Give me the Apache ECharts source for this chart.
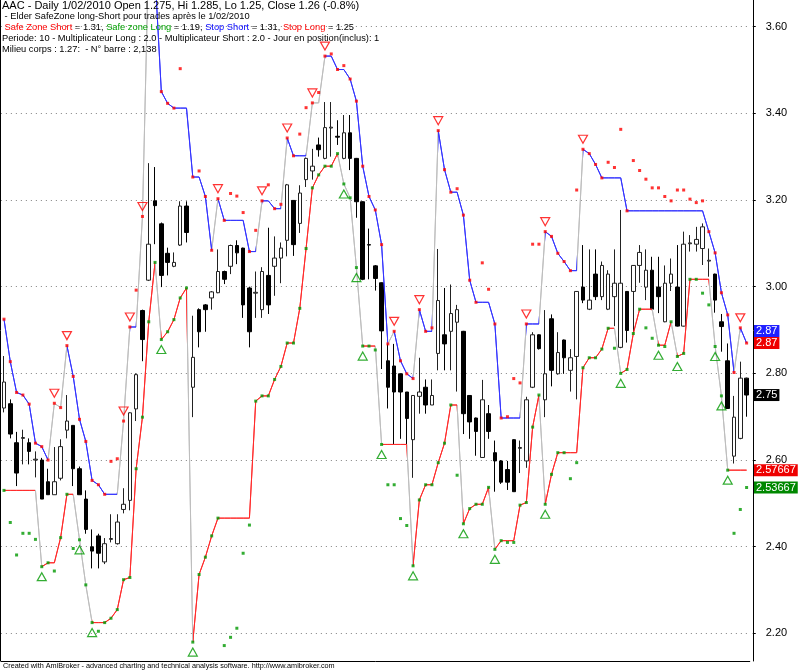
<!DOCTYPE html>
<html><head><meta charset="utf-8">
<script src="https://cdn.jsdelivr.net/npm/echarts@6/dist/echarts.min.js"></script>
<style>html,body{margin:0;padding:0;background:#fff}#c{width:800px;height:671px}</style>
</head><body><div id="c"></div><script>
// ---- data ----
const opens=[2.72,2.73,2.64,2.65,2.64,2.60,2.60,2.55,2.52,2.558,
2.669,2.68,2.58,2.51,2.40,2.425,2.365,2.417,2.407,2.486,
2.507,2.718,2.945,3.015,3.198,3.145,3.077,3.047,3.096,3.186,
2.768,2.947,2.958,2.974,2.986,3.035,3.047,3.095,3.089,2.997,
2.985,2.947,3.026,3.047,3.066,3.107,3.199,3.146,3.247,3.267,
3.327,3.296,3.366,3.347,3.296,3.355,3.296,3.196,3.097,3.048,
3.009,2.829,2.817,2.799,2.757,2.647,2.747,2.768,2.727,2.846,
2.889,2.897,2.918,2.897,2.749,2.697,2.606,2.707,2.617,2.598,
2.578,2.647,2.627,2.598,2.768,2.889,2.739,2.926,2.799,2.877,
2.807,2.839,2.999,2.948,3.029,2.977,2.948,2.977,2.86,2.989,
2.989,3.049,2.999,3.038,2.999,2.919,3.008,2.999,2.909,3.099,
3.098,3.088,3.059,3.029,2.919,2.829,2.609,2.65,2.789];
const highs=[2.84,2.74,2.665,2.67,2.65,2.62,2.605,2.58,2.63,2.648,
2.75,2.68,2.585,2.53,2.44,2.43,2.42,2.475,2.475,2.535,
2.71,2.80,2.947,3.285,3.276,3.148,3.09,3.079,3.197,3.197,
2.933,2.95,2.96,2.99,3.086,3.037,3.097,3.107,3.09,3.0,
3.035,3.045,3.136,3.116,3.102,3.237,3.2,3.234,3.298,3.318,
3.344,3.426,3.426,3.384,3.396,3.396,3.297,3.197,3.134,3.05,
3.01,2.87,2.868,2.80,2.757,2.75,2.836,2.786,2.786,3.087,
2.997,3.005,2.958,2.898,2.75,2.698,2.785,2.727,2.645,2.60,
2.598,2.648,2.645,2.746,2.895,2.89,2.946,2.936,2.895,2.878,
2.856,2.99,3.096,3.086,3.086,3.058,3.038,3.086,3.177,2.99,
3.05,3.096,3.086,3.069,3.069,3.049,3.065,3.096,3.127,3.119,
3.138,3.146,3.088,3.03,2.937,2.869,2.748,2.827,2.79];
const lows=[2.71,2.65,2.54,2.59,2.59,2.56,2.51,2.52,2.52,2.553,
2.65,2.54,2.52,2.43,2.35,2.35,2.36,2.41,2.405,2.477,
2.484,2.69,2.828,3.013,3.098,2.999,3.026,3.045,3.094,3.102,
2.699,2.86,2.896,2.947,2.985,3.006,3.029,3.052,2.928,2.86,
2.928,2.928,2.937,2.979,3.008,3.07,3.071,3.124,3.23,3.247,
3.30,3.294,3.30,3.327,3.294,3.269,3.159,3.015,3.017,2.991,
2.81,2.719,2.637,2.649,2.637,2.559,2.707,2.707,2.727,2.807,
2.807,2.807,2.758,2.66,2.649,2.61,2.605,2.649,2.527,2.545,
2.531,2.527,2.57,2.582,2.766,2.855,2.699,2.77,2.797,2.799,
2.758,2.74,2.962,2.946,2.969,2.969,2.946,2.909,2.858,2.871,
2.892,3.009,2.969,2.946,2.939,2.918,2.99,2.908,2.908,3.081,
3.081,3.05,3.023,2.94,2.85,2.718,2.592,2.648,2.70];
const closes=[2.78,2.66,2.57,2.652,2.62,2.602,2.51,2.52,2.55,2.631,
2.69,2.58,2.52,2.44,2.39,2.385,2.407,2.419,2.457,2.498,
2.709,2.797,2.878,3.098,3.187,3.026,3.056,3.056,3.186,3.125,
2.837,2.896,2.947,2.988,3.035,3.017,3.095,3.078,2.958,2.896,
2.987,3.035,2.958,3.066,3.089,3.235,3.097,3.216,3.296,3.278,
3.316,3.367,3.368,3.345,3.355,3.296,3.196,3.017,3.096,3.019,
2.898,2.768,2.757,2.757,2.696,2.749,2.757,2.727,2.749,2.968,
2.868,2.938,2.947,2.707,2.688,2.666,2.739,2.666,2.598,2.549,
2.549,2.527,2.629,2.739,2.889,2.857,2.799,2.807,2.848,2.836,
2.836,2.989,2.969,2.969,2.977,3.049,3.029,3.008,3.008,2.899,
3.049,3.079,3.038,2.948,2.977,3.008,3.029,2.909,3.098,3.101,
3.109,3.138,3.061,2.969,2.908,2.719,2.699,2.789,2.75];
// Stop Short (trailing stop above price)
const stopShort=[2.925,2.827,2.756,2.750,2.729,2.639,2.631,2.600,2.731,2.721,
2.864,2.793,2.694,2.643,2.553,2.543,2.521,2.521,2.521,2.690,
2.907,2.907,3.162,3.78,3.72,3.450,3.423,3.412,3.412,3.412,
3.253,3.253,3.208,3.084,3.203,3.153,3.153,3.153,3.153,3.081,
3.081,3.198,3.198,3.180,3.180,3.343,3.302,3.302,3.302,3.424,
3.424,3.532,3.532,3.501,3.501,3.479,3.428,3.278,3.208,3.177,
3.097,2.868,2.897,2.829,2.799,2.788,2.947,2.897,2.897,3.360,
3.270,3.218,3.218,3.165,3.015,2.964,2.964,2.964,2.914,2.697,
2.697,2.697,2.697,2.914,2.914,2.914,3.127,3.116,3.077,3.058,
3.037,3.037,3.317,3.307,3.282,3.251,3.251,3.251,3.251,3.175,
3.175,3.175,3.175,3.175,3.175,3.175,3.175,3.175,3.175,3.175,
3.175,3.175,3.127,3.078,2.986,2.935,2.802,2.905,2.87];
// Stop Long (trailing stop below price)
const stopLong=[2.530,2.530,2.530,2.530,2.530,2.530,2.354,2.363,2.363,2.421,
2.521,2.521,2.416,2.312,2.225,2.225,2.225,2.235,2.255,2.324,
2.329,2.580,2.699,2.919,3.056,2.878,2.896,2.924,2.974,2.997,
2.180,2.336,2.376,2.425,2.466,2.466,2.466,2.466,2.466,2.466,
2.736,2.748,2.748,2.786,2.816,2.870,2.870,2.950,3.088,3.228,
3.258,3.278,3.278,3.307,3.237,3.205,3.044,2.863,2.863,2.863,
2.636,2.636,2.636,2.636,2.636,2.356,2.508,2.543,2.543,2.594,
2.639,2.727,2.727,2.453,2.488,2.498,2.498,2.537,2.394,2.414,
2.414,2.414,2.496,2.502,2.676,2.750,2.498,2.567,2.617,2.617,
2.617,2.617,2.813,2.836,2.836,2.856,2.904,2.904,2.800,2.809,
2.892,2.948,2.948,2.948,2.865,2.865,2.919,2.839,2.846,3.017,
3.017,3.017,3.017,2.862,2.748,2.57667,2.57667,2.57667,2.57667];
// Safe Zone Short (red dots)
const safeShort=[2.925,2.827,2.756,2.750,2.729,2.639,2.631,2.600,2.731,2.721,
2.864,2.793,2.694,2.643,2.553,2.543,2.521,2.597,2.603,2.690,
2.907,2.992,3.162,null,null,3.450,3.423,3.412,3.503,null,
3.253,3.267,3.208,3.084,3.203,3.153,3.215,3.209,3.171,3.081,
3.130,3.198,3.235,3.180,3.190,3.343,3.302,3.352,3.413,3.424,
3.448,3.532,3.537,3.501,3.510,3.479,3.428,3.278,3.208,3.177,
3.097,2.868,2.897,2.829,2.799,2.788,2.947,2.897,2.905,3.360,
3.270,3.218,3.226,3.165,3.015,2.964,3.055,2.994,2.914,2.697,
2.700,2.788,2.778,2.914,3.098,3.098,3.127,3.116,3.077,3.058,
3.037,3.223,3.317,3.307,3.282,3.251,3.287,3.275,3.363,3.175,
3.291,3.268,3.248,3.228,3.228,3.208,3.198,3.223,3.223,3.202,
3.194,3.198,3.127,3.078,2.986,2.935,2.802,2.905,2.87];
// Safe Zone Long (green dots)
const safeLong=[2.530,2.456,2.381,2.431,2.431,2.417,2.354,2.363,2.344,2.421,
2.521,2.396,2.416,2.312,2.225,2.205,2.225,2.235,2.255,2.324,
2.329,2.580,2.699,2.919,3.056,2.878,2.896,2.924,2.974,2.997,
2.180,2.336,2.376,2.425,2.466,2.172,2.191,2.212,2.385,2.450,
2.736,2.748,2.748,2.786,2.816,2.870,2.870,2.950,3.088,3.228,
3.258,3.278,3.278,3.307,3.237,3.205,3.044,2.863,2.863,2.854,
2.636,2.543,2.543,2.465,2.449,2.356,2.508,2.543,2.543,2.594,
2.639,2.727,2.565,2.453,2.488,2.498,2.498,2.537,2.394,2.414,
2.410,2.410,2.496,2.502,2.676,2.750,2.498,2.567,2.617,2.617,
2.557,2.594,2.813,2.836,2.836,2.856,2.904,2.858,2.800,2.809,
2.892,2.948,2.905,2.881,2.865,2.862,2.919,2.839,2.846,3.017,
3.017,2.985,2.958,2.862,2.748,2.57667,2.431,2.486,2.53667];
// bars with a new short (▽) / long (△) signal
const shortSignals=[8,10,19,20,22,34,41,45,49,51,62,66,69,83,86,92,117];
const longSignals=[6,12,14,25,30,54,56,57,60,65,73,78,86,98,104,107,113,114,115];
// bar ranges where no position is held (stop drawn grey)
const shortOff=[[7,10],[18,20],[21,24],[33,34],[40,41],[44,45],[48,51],[61,62],[65,66],[68,69],[82,83],[85,86],[91,92],[116,117]];
const longOff=[[5,6],[11,14],[24,25],[29,30],[53,57],[59,60],[64,65],[72,73],[77,78],[85,86],[97,98],[103,104],[106,107],[112,115]];
const yTicks=[2.2,2.4,2.6,2.8,3.0,3.2,3.4,3.6];
const headerLines=[
 'AAC - Daily 1/02/2010 Open 1.275, Hi 1.285, Lo 1.25, Close 1.26 (-0.8%)',
 ' - Elder SafeZone long-Short pour trades après le 1/02/2010',
 null,
 'Periode: 10 - Multiplicateur Long : 2.0 - Multiplicateur Short : 2.0 - Jour en position(inclus): 1',
 'Milieu corps : 1.27:  - N° barre : 2,138'];
const legendParts=[['Safe Zone Short','= 1.31,','r'],['Safe zone Long','= 1.19,','g'],['Stop Short','= 1.31,','b'],['Stop Long','= 1.25','r']];
const footer='Created with AmiBroker - advanced charting and technical analysis software. http://www.amibroker.com';

// ---- chart ----
const FONT='"Liberation Sans", Arial, sans-serif';
const C_BLUE='#3333ff', C_RED='#ff2a2a', C_GREY='#bdbdbd', C_GREEN='#009900';
const yMin=2.1364, yMax=3.6614;
const cats=closes.map((_,i)=>i);
const candles=closes.map((c,i)=>[opens[i],c,lows[i],highs[i]]);
const pieces=r=>r.map(p=>({gte:p[0],lte:p[1],color:C_GREY}));
const chart=echarts.init(document.getElementById('c'));
chart.setOption({
  animation:false,
  backgroundColor:'#fff',
  grid:{left:0.85,top:0,width:748.9,height:661},
  xAxis:{type:'category',data:cats,boundaryGap:true,
    axisLine:{show:true,lineStyle:{color:'#000',width:1}},axisTick:{show:false},axisLabel:{show:false},splitLine:{show:false}},
  yAxis:{type:'value',position:'right',offset:3,min:yMin,max:yMax,
    axisLine:{show:true,lineStyle:{color:'#000',width:1}},
    axisTick:{show:true,customValues:yTicks,length:3,lineStyle:{color:'#000'}},
    axisLabel:{customValues:yTicks,formatter:v=>v.toFixed(2),color:'#000',fontSize:11,fontFamily:FONT,margin:13},
    splitLine:{show:true,lineStyle:{color:'#808080',width:1,type:[1,4]}}},
  visualMap:[
    {type:'piecewise',show:false,dimension:0,seriesIndex:1,pieces:pieces(shortOff),outOfRange:{color:C_BLUE}},
    {type:'piecewise',show:false,dimension:0,seriesIndex:2,pieces:pieces(longOff),outOfRange:{color:C_RED}}
  ],
  series:[
    {type:'candlestick',data:candles,barWidth:4,z:2,
      itemStyle:{color:'#fff',color0:'#000',borderColor:'#222',borderColor0:'#000',borderWidth:1}},
    {type:'line',data:stopShort,showSymbol:false,z:3,lineStyle:{width:1}},
    {type:'line',data:stopLong,showSymbol:false,z:3,lineStyle:{width:1}},
    {type:'scatter',data:safeShort,symbol:'rect',symbolSize:3,z:4,itemStyle:{color:'#ff0000'}},
    {type:'scatter',data:safeLong,symbol:'rect',symbolSize:3,z:4,itemStyle:{color:C_GREEN}},
    {type:'scatter',data:shortSignals.map(i=>[i,stopShort[i]]),symbol:'triangle',symbolRotate:180,symbolSize:[9,8],symbolOffset:[0,-10],z:5,
      itemStyle:{color:'rgba(255,255,255,0)',borderColor:'#ff0000',borderWidth:1.2}},
    {type:'scatter',data:longSignals.map(i=>[i,stopLong[i]]),symbol:'triangle',symbolSize:[9,8],symbolOffset:[0,10],z:5,
      itemStyle:{color:'rgba(255,255,255,0)',borderColor:C_GREEN,borderWidth:1.2}}
  ]
});
// ---- texts and value tags ----
const fmt=v=>String(parseFloat(v.toFixed(5)));
const last=closes.length-1;
const tags=[
  {v:stopShort[last],c:'#2020ff'},
  {v:safeShort[last],c:'#ee0000'},
  {v:closes[last],c:'#000'},
  {v:stopLong[last],c:'#ee0000'},
  {v:safeLong[last],c:'#008800'}
].map(t=>({...t,y:chart.convertToPixel({yAxisIndex:0},t.v)}));
for(let i=tags.length-2;i>=0;i--){ if(tags[i].y>tags[i+1].y-12) tags[i].y=tags[i+1].y-12; }
const g=[];
g.push({type:'line',shape:{x1:0.5,y1:0,x2:0.5,y2:661},style:{stroke:'#000',lineWidth:1},z:10});
const HS=9.3;
headerLines.forEach((t,k)=>{
  const fs=k===0?11:HS;
  if(t===null){
    let txt=' ';
    legendParts.forEach(p=>{txt+='{'+p[2]+'|'+p[0]+'}{k| '+p[1]+' }';});
    const base={fontSize:HS,fontFamily:FONT};
    g.push({type:'text',x:2,y:6+k*10.9,z:20,style:{text:txt,verticalAlign:'middle',fontSize:HS,fontFamily:FONT,
      rich:{r:{...base,fill:'#ff0000'},g:{...base,fill:'#00a000'},b:{...base,fill:'#0000ff'},k:{...base,fill:'#000'}}}});
  } else {
    g.push({type:'text',x:2,y:6+k*10.9,z:20,style:{text:t,fill:'#000',fontSize:fs,fontFamily:FONT,verticalAlign:'middle'}});
  }
});
g.push({type:'text',x:3,y:666,z:20,style:{text:footer,fill:'#000',fontSize:7.25,fontFamily:FONT,verticalAlign:'middle'}});
tags.forEach(t=>{
  g.push({type:'text',x:754,y:t.y,z:20,style:{text:fmt(t.v),fill:'#fff',backgroundColor:t.c,padding:[1,2,0,2],
    fontSize:11,fontFamily:FONT,verticalAlign:'middle'}});
});
chart.setOption({graphic:g});
</script></body></html>
